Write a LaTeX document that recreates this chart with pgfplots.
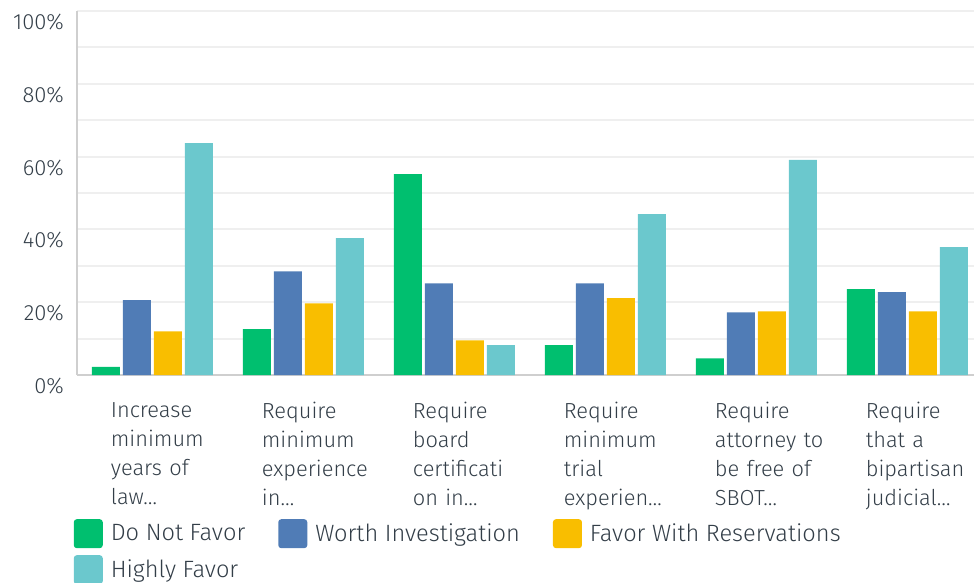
\documentclass[border=0pt]{standalone}
\usepackage{pgfplots}
\pgfplotsset{compat=1.18}
\usepackage{fontspec}
\setmainfont{Fira Sans}[UprightFont=* Light]
\definecolor{cG}{HTML}{00BF6F}
\definecolor{cB}{HTML}{507CB6}
\definecolor{cY}{HTML}{F9BE00}
\definecolor{cT}{HTML}{6BC8CD}
\definecolor{txt}{HTML}{333E48}
\definecolor{grd}{HTML}{EFEFEF}
\definecolor{axl}{HTML}{CFCFCF}
\begin{document}
\begin{tikzpicture}
\useasboundingbox (-38pt,-104pt) rectangle (449pt,187.5pt);
\begin{axis}[
  at={(0.5pt,0)}, anchor=south west,
  scale only axis, width=453pt, height=182pt,
  xmin=-0.5, xmax=5.5, ymin=0, ymax=100,
  ybar=1.5pt, bar width=14pt,
  axis x line=bottom, axis y line=left,
  axis line style={-, draw=axl, line width=0.8pt},
  ytick={0,20,...,100}, minor ytick={10,30,...,90},
  ymajorgrids, yminorgrids,
  major grid style={draw=grd, line width=1pt},
  minor grid style={draw=grd, line width=1pt},
  major tick length=0pt, minor tick length=0pt,
  /pgf/number format/assume math mode=true,
  yticklabel={\pgfmathprintnumber{\tick}\%},
  yticklabel style={font=\fontsize{11}{12}\selectfont, text=txt, xshift=-3pt, yshift=-5.5pt},
  xtick={0,1,2,3,4,5},
  xticklabels={{Increase\\minimum\\years of\\law…},{Require\\minimum\\experience\\in…},{Require\\board\\certificati\\on in…},{Require\\minimum\\trial\\experien…},{Require\\attorney to\\be free of\\SBOT…},{Require\\that a\\bipartisan\\judicial…}},
  xticklabel style={font=\fontsize{10.9}{14.5}\selectfont, text=txt, text width=60pt, align=left, anchor=north west, inner sep=0pt, xshift=-21pt, yshift=-13.5pt},
  legend columns=3,
  legend style={draw=none, fill=none, at={(-0.004,-0.395)}, anchor=north west, inner sep=0pt, font=\fontsize{11.8}{14}\selectfont, text=txt, row sep=3.5pt, /tikz/every even column/.append style={column sep=14.5pt}},
  legend cell align=left,
  legend image code/.code={\fill[#1, rounded corners=1.5pt] (0pt,-7.25pt) rectangle (14.5pt,7.25pt); \path (16.5pt,0pt);},
]
\addplot[fill=cG, draw=none] coordinates {(0,2.2) (1,12.6) (2,55.2) (3,8.2) (4,4.6) (5,23.6)};
\addplot[fill=cB, draw=none] coordinates {(0,20.6) (1,28.5) (2,25.2) (3,25.2) (4,17.2) (5,22.8)};
\addplot[fill=cY, draw=none] coordinates {(0,12.0) (1,19.7) (2,9.5) (3,21.1) (4,17.5) (5,17.5)};
\addplot[fill=cT, draw=none] coordinates {(0,63.7) (1,37.6) (2,8.2) (3,44.2) (4,59.1) (5,35.1)};
\legend{Do Not Favor, Worth Investigation, Favor With Reservations, Highly Favor}
\end{axis}
\end{tikzpicture}
\end{document}
